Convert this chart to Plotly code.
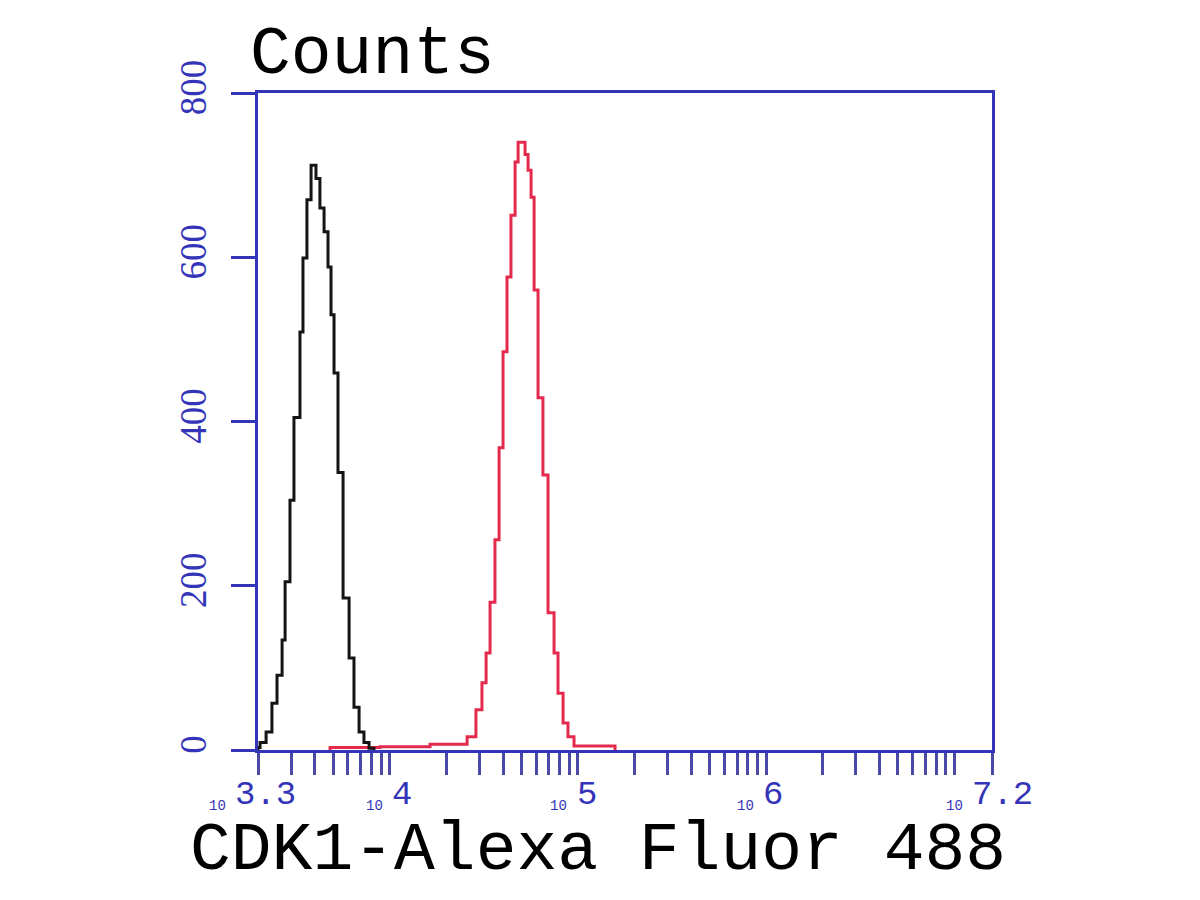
import plotly.graph_objects as go

# ---------------- data ----------------
# step-histogram bin edges (log10 of fluorescence) and counts
black_edges_log = [3.300, 3.311, 3.343, 3.374, 3.401, 3.428, 3.444, 3.470, 3.491,
                   3.523, 3.539, 3.560, 3.582, 3.608, 3.629, 3.651, 3.672, 3.688,
                   3.704, 3.725, 3.752, 3.784, 3.810, 3.837, 3.863, 3.890, 3.916]
black_counts = [3, 9, 22, 57, 91, 134, 205, 304, 405, 509, 599, 670, 712,
                696, 660, 631, 588, 530, 459, 338, 185, 112, 52, 22, 9, 2]

red_edges_log = [3.683, 3.948, 4.214, 4.411, 4.458, 4.490, 4.512, 4.533, 4.559,
                 4.581, 4.602, 4.623, 4.644, 4.666, 4.682, 4.719, 4.735, 4.751,
                 4.767, 4.788, 4.814, 4.841, 4.873, 4.894, 4.921, 4.947, 4.979, 5.197]
red_counts = [3, 4, 7, 16, 49, 82, 118, 180, 256, 368, 485, 576, 651, 716, 740,
              725, 706, 673, 560, 429, 335, 167, 118, 69, 33, 16, 5]

x_range_log = [3.3, 7.2]
y_range = [0, 800]
y_ticks = [0, 200, 400, 600, 800]
x_major_labels = ["3.3", "4", "5", "6", "7.2"]
x_major_log = [3.3, 4, 5, 6, 7.2]
decades = [1e3, 1e4, 1e5, 1e6, 1e7]
multiples = [1, 2, 3, 4, 5, 6, 7, 8, 9]

# ---------------- build ----------------
BLUE = "#3434b8"
W, H = 1200, 900
OX, OY = 8, 8                     # page body offset of the plot div
PL, PT, PR, PB = 258, 93, 992, 750  # target plot-area pixel box in the screenshot
L, T = PL - OX, PT - OY
PW, PH = PR - PL, PB - PT
R, B = W - L - PW, H - T - PH


def step_xy(edges_log, counts):
    xs = [10 ** edges_log[0]] + [10 ** e for e in edges_log[:-1]] + [10 ** edges_log[-1]]
    ys = [0] + list(counts) + [0]
    return xs, ys


fig = go.Figure()
xr, yr = step_xy(red_edges_log, red_counts)
fig.add_trace(go.Scatter(x=xr, y=yr, mode="lines", line=dict(color="#e42a4c", width=3, shape="hv"),
                         hoverinfo="skip", showlegend=False))
xb, yb = step_xy(black_edges_log, black_counts)
fig.add_trace(go.Scatter(x=xb, y=yb, mode="lines", line=dict(color="#141414", width=3, shape="hv"),
                         hoverinfo="skip", showlegend=False))

lo, hi = 10 ** x_range_log[0], 10 ** x_range_log[1]
tickvals = [lo, hi] + [d * m for d in decades for m in multiples if lo < d * m < hi]
tickvals = sorted(set(tickvals))

fig.update_xaxes(type="log", range=x_range_log, showgrid=False, zeroline=False,
                 showline=True, linecolor=BLUE, linewidth=3, mirror=True,
                 ticks="outside", ticklen=22, tickwidth=3, tickcolor="#4a4aa8",
                 tickvals=tickvals, showticklabels=False)
fig.update_yaxes(range=y_range, showgrid=False, zeroline=False,
                 showline=True, linecolor=BLUE, linewidth=3, mirror=True,
                 ticks="outside", ticklen=24, tickwidth=3, tickcolor=BLUE,
                 tickvals=y_ticks, ticktext=[str(v) for v in y_ticks],
                 tickangle=-90, ticklabelstandoff=10,
                 tickfont=dict(family="Liberation Serif", size=37, color=BLUE))


def px_to_paper_x(px):
    return (px - PL) / PW


def px_to_paper_y(py):
    return (PB - py) / PH


# x tick label offsets (base "10" right edge, exponent left edge) relative to tick, px
base_dx = [-30, -5, -9, -10, -27]
exp_dx = [-25, 0, -3, -5, -22]
for lab, lg, bdx, edx in zip(x_major_labels, x_major_log, base_dx, exp_dx):
    fig.add_annotation(x=lg, xref="x", y=0, yref="paper", text=lab, showarrow=False,
                       xanchor="left", yanchor="middle", xshift=edx, yshift=-45,
                       font=dict(family="Liberation Mono", size=34, color=BLUE))
    fig.add_annotation(x=lg, xref="x", y=0, yref="paper", text="10", showarrow=False,
                       xanchor="right", yanchor="middle", xshift=bdx, yshift=-56,
                       font=dict(family="Liberation Mono", size=14, color=BLUE))

fig.add_annotation(x=px_to_paper_x(248), xref="paper", y=px_to_paper_y(54), yref="paper",
                   text="Counts", showarrow=False, xanchor="left", yanchor="middle",
                   font=dict(family="Liberation Mono", size=68, color="black"))
fig.add_annotation(x=px_to_paper_x(598), xref="paper", y=px_to_paper_y(850), yref="paper",
                   text="CDK1-Alexa Fluor 488", showarrow=False, xanchor="center", yanchor="middle",
                   font=dict(family="Liberation Mono", size=68, color="black"))

fig.update_layout(width=W, height=H, margin=dict(l=L, r=R, t=T, b=B),
                  paper_bgcolor="white", plot_bgcolor="white", showlegend=False)

fig.write_html("out.html")
